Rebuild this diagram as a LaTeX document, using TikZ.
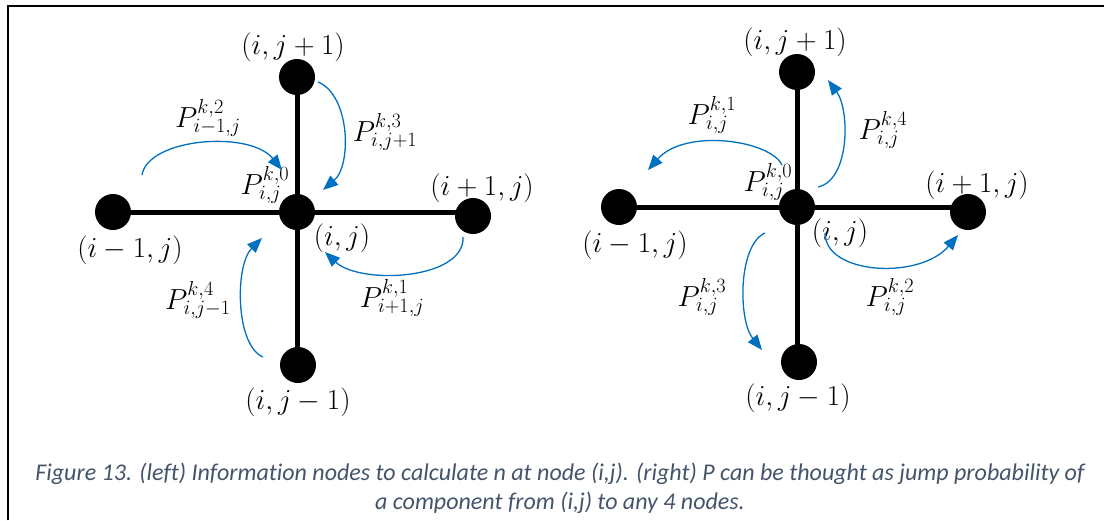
\RequirePackage{fix-cm}
\documentclass[tikz,border=0pt]{standalone}
\usepackage{fontspec}
\newfontfamily\capfont[Ligatures=CommonOff]{Carlito}
\usetikzlibrary{arrows.meta}
\definecolor{arrblue}{HTML}{0070C0}
\definecolor{capcol}{HTML}{44546A}
\begin{document}
\begin{tikzpicture}[x=1pt,y=-1pt,
 dot/.style={circle,fill=black,inner sep=0pt,minimum size=36pt},
 bar/.style={line width=5pt},
 lbl/.style={font=\fontsize{29}{31}\selectfont,inner sep=0pt},
 jump/.style={draw=arrblue,line width=1.3pt,-{Triangle[length=15pt,width=12pt]}},
 captext/.style={font=\capfont\itshape\fontsize{24}{29}\selectfont,text=capcol,inner sep=0pt,anchor=base}]
\useasboundingbox (0,0) rectangle (1104,520);
\draw[line width=2.4pt] (7.8,520) -- (7.8,6.2) -- (1104,6.2);

% ---------- left diagram ----------
\node[dot] (Lc) at (297,212) {};
\node[dot] (Lt) at (297,77) {};
\node[dot] (Lb) at (298,365) {};
\node[dot] (Ll) at (113,212) {};
\node[dot] (Lr) at (473,216) {};
\draw[bar] (Ll.center) -- (Lc.center) -- (Lc.center -| Lr.center);
\draw[bar] (Lt.center) -- (Lc.center) -- (Lc.center |- Lb.center);

\node[lbl] (Llt) at (293,47) {$(i,j+1)$};
\node[lbl] (Lll) at (130,250) {$(i-1,j)$};
\node[lbl] (Llr) at (482,188) {$(i+1,j)$};
\node[lbl] (Llc) at (342,238) {$(i,j)$};
\node[lbl] (Llb) at (298,402) {$(i,j-1)$};
\node[lbl] (LP0) at (265,185) {$P_{i,j}^{k,0}$};
\node[lbl] (LP2) at (208,118) {$P_{i-1,j}^{k,2}$};
\node[lbl] (LP3) at (385,132) {$P_{i,j+1}^{k,3}$};
\node[lbl] (LP4) at (198,300) {$P_{i,j-1}^{k,4}$};
\node[lbl] (LP1) at (392,298) {$P_{i+1,j}^{k,1}$};

\coordinate (La2s) at (142,175); \coordinate (La2e) at (282,170);
\coordinate (La3s) at (318,82);  \coordinate (La3e) at (323,190);
\coordinate (La1s) at (463,237); \coordinate (La1e) at (325,252);
\coordinate (La4s) at (263,357); \coordinate (La4e) at (262,238);
\draw[jump] (La2s) .. controls (148,138) and (250,130) .. (La2e);
\draw[jump] (La3s) .. controls (350,95) and (352,165) .. (La3e);
\draw[jump] (La1s) .. controls (465,280) and (360,285) .. (La1e);
\draw[jump] (La4s) .. controls (235,345) and (235,265) .. (La4e);

% ---------- right diagram ----------
\node[dot] (Rc) at (797,207) {};
\node[dot] (Rt) at (797,72) {};
\node[dot] (Rb) at (799,362) {};
\node[dot] (Rl) at (619,207) {};
\node[dot] (Rr) at (968,212) {};
\draw[bar] (Rl.center) -- (Rc.center) -- (Rc.center -| Rr.center);
\draw[bar] (Rt.center) -- (Rc.center) -- (Rc.center |- Rb.center);

\node[lbl] (Rlt) at (795,42) {$(i,j+1)$};
\node[lbl] (Rll) at (635,245) {$(i-1,j)$};
\node[lbl] (Rlr) at (977,185) {$(i+1,j)$};
\node[lbl] (Rlc) at (840,233) {$(i,j)$};
\node[lbl] (Rlb) at (798,398) {$(i,j-1)$};
\node[lbl] (RP0) at (768,182) {$P_{i,j}^{k,0}$};
\node[lbl] (RP1) at (712,115) {$P_{i,j}^{k,1}$};
\node[lbl] (RP4) at (883,130) {$P_{i,j}^{k,4}$};
\node[lbl] (RP3) at (702,297) {$P_{i,j}^{k,3}$};
\node[lbl] (RP2) at (890,297) {$P_{i,j}^{k,2}$};

\coordinate (Ra1s) at (782,165); \coordinate (Ra1e) at (648,170);
\coordinate (Ra4s) at (818,187); \coordinate (Ra4e) at (828,80);
\coordinate (Ra2s) at (825,233); \coordinate (Ra2e) at (958,235);
\coordinate (Ra3s) at (765,233); \coordinate (Ra3e) at (762,350);
\draw[jump] (Ra1s) .. controls (770,140) and (685,128) .. (Ra1e);
\draw[jump] (Ra4s) .. controls (850,180) and (850,110) .. (Ra4e);
\draw[jump] (Ra2s) .. controls (825,275) and (920,280) .. (Ra2e);
\draw[jump] (Ra3s) .. controls (738,245) and (738,320) .. (Ra3e);

% ---------- caption ----------
\node[captext] (capA) at (560,480) {Figure 13. (left) Information nodes to calculate n at node (i,j). (right) P can be thought as jump probability of};
\node[captext] (capB) at (560,509) {a component from (i,j) to any 4 nodes.};
\end{tikzpicture}
\end{document}
